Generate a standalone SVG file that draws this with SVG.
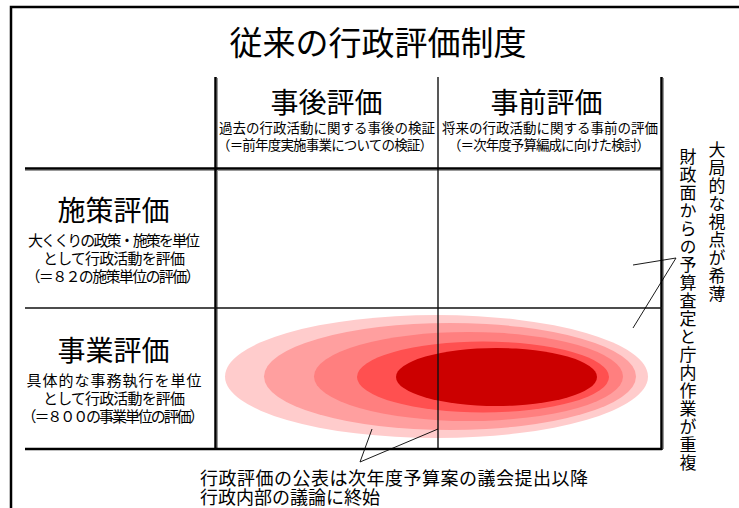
<svg xmlns="http://www.w3.org/2000/svg" width="739" height="508" viewBox="0 0 739 508">
<style>
text{font-family:"Noto Sans CJK JP","Noto Sans CJK SC",sans-serif;fill:#000}
.title{font-size:33px;text-anchor:middle}
.head{font-size:28px;text-anchor:middle}
.csub{font-size:13.5px;text-anchor:middle}
.rsub{font-size:15px;text-anchor:middle}
.note{font-size:18px}
.vert{font-size:17px;writing-mode:vertical-rl;letter-spacing:1px}
.thick{stroke:#000;stroke-width:2.5;fill:none}
.thin{stroke:#111;stroke-width:1.4;fill:none}
.shadow{stroke:#999;stroke-width:1;fill:none}
.call{stroke:#000;stroke-width:0.9;fill:none}
</style>
<rect width="739" height="508" fill="#fff"/>
<g id="frame">
<path class="thick" d="M11 508 V7 H739" stroke-width="2.3"/>
</g>
<g id="title"><text class="title" x="378" y="55">従来の行政評価制度</text></g>
<g id="ellipses">
<ellipse cx="436.5" cy="376.5" rx="211.5" ry="61.5" fill="#FFCCCC"/>
<ellipse cx="450" cy="376.5" rx="186" ry="53.5" fill="#FF9F9F"/>
<ellipse cx="468.5" cy="376.5" rx="154.5" ry="44.5" fill="#FF7F7F"/>
<ellipse cx="483" cy="377" rx="126" ry="35.5" fill="#FF5050"/>
<ellipse cx="496.5" cy="377" rx="100.5" ry="29" fill="#CC0000"/>
</g>
<g id="grid">
<line class="shadow" x1="217.5" y1="78" x2="217.5" y2="449"/>
<line class="shadow" x1="663.5" y1="78" x2="663.5" y2="449"/>
<line class="shadow" x1="25" y1="170.5" x2="661" y2="170.5"/>
<line class="thick" x1="215.5" y1="77" x2="215.5" y2="450"/>
<line class="thin" x1="438" y1="77" x2="438" y2="450"/>
<line class="thick" x1="661.5" y1="77" x2="661.5" y2="450"/>
<line class="thick" x1="25" y1="168.5" x2="662" y2="168.5"/>
<line class="thin" x1="25" y1="308" x2="662" y2="308"/>
<line class="thick" x1="25" y1="449" x2="662" y2="449" stroke-width="3"/>
</g>
<g id="col-after">
<text class="head" x="326.5" y="113">事後評価</text>
<text class="csub" x="327" y="133">過去の行政活動に関する事後の検証</text>
<text class="csub" x="325" y="150" textLength="216">（＝前年度実施事業についての検証）</text>
</g>
<g id="col-before">
<text class="head" x="546.5" y="113">事前評価</text>
<text class="csub" x="550" y="133">将来の行政活動に関する事前の評価</text>
<text class="csub" x="549" y="150" textLength="202">（＝次年度予算編成に向けた検討）</text>
</g>
<g id="row-policy">
<text class="head" x="113.5" y="221">施策評価</text>
<text class="rsub" x="114" y="246" textLength="172">大くくりの政策・施策を単位</text>
<text class="rsub" x="114" y="264" textLength="142">として行政活動を評価</text>
<text class="rsub" x="113" y="282" textLength="175">（＝８２の施策単位の評価）</text>
</g>
<g id="row-project">
<text class="head" x="113.5" y="361">事業評価</text>
<text class="rsub" x="114" y="386" textLength="175">具体的な事務執行を単位</text>
<text class="rsub" x="114" y="404" textLength="142">として行政活動を評価</text>
<text class="rsub" x="113" y="422" textLength="183">（＝８００の事業単位の評価）</text>
</g>
<g id="connectors">
<polyline class="call" points="633,265 676,258 633,328"/>
<polyline class="call" points="372,429 360,462 438,429"/>
</g>
<g id="note-right">
<text class="vert" x="717" y="141">大局的な視点が希薄</text>
<text class="vert" x="688" y="148">財政面からの予算査定と庁内作業が重複</text>
</g>
<g id="note-bottom">
<text class="note" x="200" y="485" textLength="388">行政評価の公表は次年度予算案の議会提出以降</text>
<text class="note" x="200" y="504">行政内部の議論に終始</text>
</g>
</svg>
